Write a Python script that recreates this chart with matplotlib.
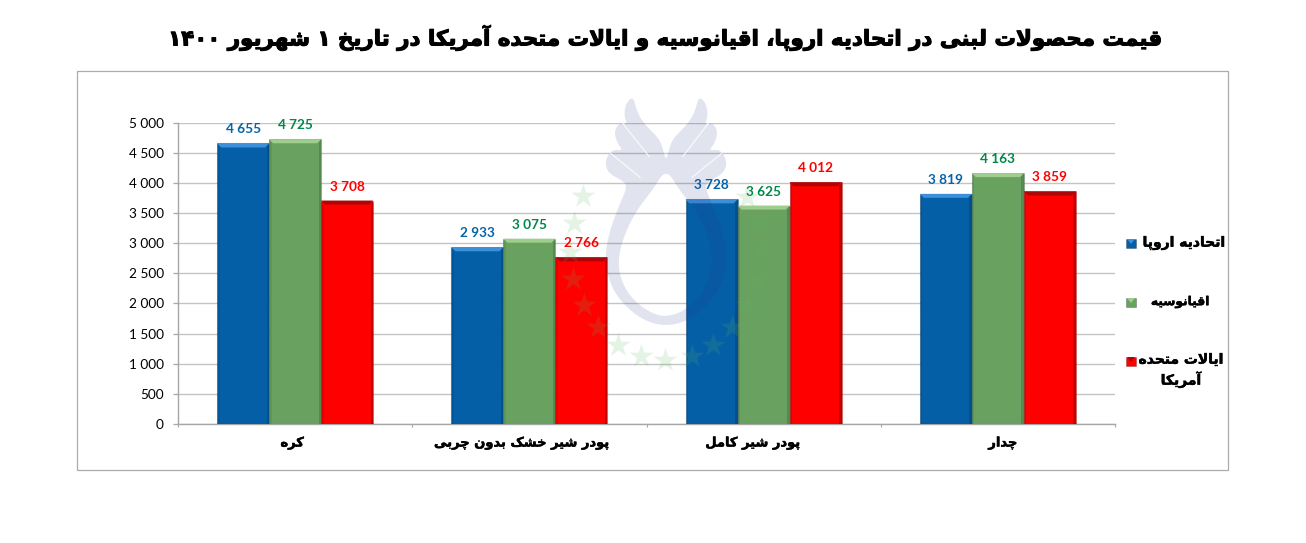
import matplotlib
matplotlib.use("Agg")
import matplotlib.pyplot as plt
import matplotlib.patheffects as pe
from matplotlib.patches import Polygon, Rectangle, PathPatch
from matplotlib.path import Path
from matplotlib.transforms import ScaledTranslation
import numpy as np

# ---------- data ----------
title = "قیمت محصولات لبنی در اتحادیه اروپا، اقیانوسیه و ایالات متحده آمریکا در تاریخ ۱ شهریور ۱۴۰۰"
categories = ["کره", "پودر شیر خشک بدون چربی", "پودر شیر کامل", "چدار"]
series_names = ["اتحادیه اروپا", "اقیانوسیه", "ایالات متحده\nآمریکا"]
eu_values = [4655, 2933, 3728, 3819]
oceania_values = [4725, 3075, 3625, 4163]
usa_values = [3708, 2766, 4012, 3859]
y_ticks = [0, 500, 1000, 1500, 2000, 2500, 3000, 3500, 4000, 4500, 5000]

# ---------- Persian shaping (matplotlib has no shaping or bidi) ----------
FORMS = {
    "ا": (0xFE8D, 2), "آ": (0xFE81, 2), "ب": (0xFE8F, 4), "ت": (0xFE95, 4), "ث": (0xFE99, 4),
    "ج": (0xFE9D, 4), "ح": (0xFEA1, 4), "خ": (0xFEA5, 4), "د": (0xFEA9, 2), "ذ": (0xFEAB, 2),
    "ر": (0xFEAD, 2), "ز": (0xFEAF, 2), "س": (0xFEB1, 4), "ش": (0xFEB5, 4), "ص": (0xFEB9, 4),
    "ض": (0xFEBD, 4), "ط": (0xFEC1, 4), "ظ": (0xFEC5, 4), "ع": (0xFEC9, 4), "غ": (0xFECD, 4),
    "ف": (0xFED1, 4), "ق": (0xFED5, 4), "ل": (0xFEDD, 4), "م": (0xFEE1, 4), "ن": (0xFEE5, 4),
    "ه": (0xFEE9, 4), "و": (0xFEED, 2), "پ": (0xFB56, 4), "چ": (0xFB7A, 4), "ژ": (0xFB8A, 2),
    "ک": (0xFB8E, 4), "گ": (0xFB92, 4), "ی": (0xFBFC, 4),
}


def shape_line(s):
    out = []
    chars = list(s)
    i = 0
    while i < len(chars):
        c = chars[i]
        if c not in FORMS:
            out.append(c)
            i += 1
            continue
        prev_joins = i > 0 and chars[i - 1] in FORMS and FORMS[chars[i - 1]][1] == 4
        if c == "ل" and i + 1 < len(chars) and chars[i + 1] == "ا":
            out.append(chr(0xFEFC if prev_joins else 0xFEFB))
            i += 2
            continue
        start, n = FORMS[c]
        next_exists = i + 1 < len(chars) and chars[i + 1] in FORMS
        can_next = n == 4 and next_exists
        if prev_joins and can_next:
            k = 3
        elif can_next:
            k = 2
        elif prev_joins:
            k = 1
        else:
            k = 0
        out.append(chr(start + k))
        i += 1
    # visual order: reverse, but keep runs of digits left-to-right
    result, run = [], []
    for ch in reversed(out):
        if "\u06f0" <= ch <= "\u06f9":
            run.append(ch)
        else:
            result.extend(reversed(run))
            run = []
            result.append(ch)
    result.extend(reversed(run))
    return "".join(result)


def fa(s):
    return "\n".join(shape_line(p) for p in s.split("\n"))


def heavy(w):
    return [pe.withStroke(linewidth=w, foreground="black")]


FA_FONT = "DejaVu Sans"
NUM_FONT = "Lato"
W, H = 1306, 543

fig = plt.figure(figsize=(W / 100, H / 100), dpi=100, facecolor="white")
L, R, T, B = 178, 1115, 122.7, 424
ax = fig.add_axes([L / W, 1 - B / H, (R - L) / W, (B - T) / H], zorder=1)
ax.set_xlim(0, 4)
ax.set_ylim(0, 5000)
px_x = 4 / (R - L)
px_y = 5000 / (B - T)

fills = ["#045FA6", "#68A160", "#FF0000"]
tops = ["#3C8FDA", "#9FCE8C", "#AE0606"]
sides = ["#034A82", "#4E7F48", "#A80000"]
label_cols = ["#0563A8", "#00874A", "#FF0000"]
series = [eu_values, oceania_values, usa_values]
width = 52 * px_x

ax.set_axisbelow(True)
ax.yaxis.grid(True, color="#C4C4C4", lw=1.0)
for s, (vals, f, tc, sc, lc) in enumerate(zip(series, fills, tops, sides, label_cols)):
    xs = np.arange(len(vals)) + 0.5 + (s - 1) * width
    bars = ax.bar(xs, vals, width=width, color=f, edgecolor=(0, 0, 0, 0.18), lw=0.8, zorder=3)
    for rect, v in zip(bars, vals):
        x0, x1, h = rect.get_x(), rect.get_x() + rect.get_width(), rect.get_height()
        dx, dy = 4 * px_x, 4 * px_y
        sw = 2.5 * px_x
        ax.add_patch(Polygon([(x0, h), (x1, h), (x1 - dx, h - dy), (x0 + dx, h - dy)],
                             fc=tc, ec="none", zorder=4))
        ax.add_patch(Polygon([(x1, h), (x1, 0), (x1 - sw, 0), (x1 - sw, h - dy)],
                             fc=sc, ec="none", alpha=0.7, zorder=4))
        ax.add_patch(Polygon([(x0, h), (x0, 0), (x0 + sw, 0), (x0 + sw, h - dy)],
                             fc=sc, ec="none", alpha=0.3, zorder=4))
        ax.annotate(f"{v:,}".replace(",", " "), (rect.get_x() + rect.get_width() / 2, h),
                    xytext=(0, 14 * 0.72), textcoords="offset points", ha="center", va="center",
                    color=lc, fontsize=9.8, fontweight="bold", family=NUM_FONT, zorder=6)

for side in ("top", "right"):
    ax.spines[side].set_visible(False)
for side in ("left", "bottom"):
    ax.spines[side].set_color("#A6A6A6")
    ax.spines[side].set_linewidth(1.0)
ax.set_yticks(y_ticks)
ax.set_yticklabels([f"{v:,}".replace(",", " ") for v in y_ticks], fontsize=9.8, family=NUM_FONT, color="black")
ax.tick_params(axis="y", length=3.6, width=0.9, color="#A6A6A6", pad=6.5)
ax.set_xticks(range(5))
ax.set_xticklabels([])
ax.tick_params(axis="x", which="major", length=2.5, width=0.8, color="#A6A6A6")
ax.set_xticks(np.arange(4) + 0.5, minor=True)
ax.set_xticklabels([fa(c) for c in categories], minor=True, fontsize=9.4, fontweight="bold",
                   family=FA_FONT, color="black")
ax.tick_params(axis="x", which="minor", length=0, pad=9)
label_shift_px = [-3, -8, -11, 5]
for lab, dx in zip(ax.get_xticklabels(minor=True), label_shift_px):
    lab.set_transform(lab.get_transform() + ScaledTranslation(dx / 100, 0, fig.dpi_scale_trans))
    lab.set_path_effects(heavy(0.35))

# ---------- overlay in pixel coordinates: frame, watermark, legend, title ----------
ov = fig.add_axes([0, 0, 1, 1], zorder=2)
ov.set_xlim(0, W)
ov.set_ylim(H, 0)
ov.axis("off")
ov.add_patch(Rectangle((77, 71), 1151, 399, fc="none", ec="#ABABAB", lw=0.9))


def smooth(pts, it=3):
    p = np.asarray(pts, float)
    for _ in range(it):
        q = np.roll(p, -1, axis=0)
        p = np.column_stack([0.75 * p + 0.25 * q, 0.25 * p + 0.75 * q]).reshape(-1, 2)
    return p


def zpt(pts):
    return [(540 + x / 3, 90 + y / 3) for x, y in pts]


left_half = [(375, 205), (362, 150), (320, 110), (292, 70), (280, 18), (258, 40), (252, 75), (262, 105),
             (238, 98), (222, 125), (232, 160), (250, 182), (215, 178), (194, 215), (205, 250), (248, 272),
             (262, 290), (238, 345), (208, 425), (194, 505), (212, 590), (258, 652), (318, 695), (378, 708)]
right_half = [(756 - x, y) for x, y in reversed(left_half[:-1])]
outer = smooth(zpt(left_half + right_half))
hole = smooth(zpt([(378, 235), (418, 300), (468, 360), (506, 440), (520, 520), (490, 610), (430, 665),
                   (378, 680), (340, 672), (290, 640), (250, 590), (232, 520), (250, 440), (290, 360), (338, 300)]))
verts = np.vstack([outer, outer[:1], hole, hole[:1]])
codes = ([Path.MOVETO] + [Path.LINETO] * (len(outer) - 1) + [Path.CLOSEPOLY] +
         [Path.MOVETO] + [Path.LINETO] * (len(hole) - 1) + [Path.CLOSEPOLY])
ov.add_patch(PathPatch(Path(verts, codes), fc="#2C3A8C", ec="none", alpha=0.14, zorder=1))
for a, b in [((248, 100), (328, 200)), ((505, 100), (428, 200)), ((212, 190), (300, 262)), ((545, 190), (456, 262))]:
    pa, pb = zpt([a, b])
    ov.plot([pa[0], pb[0]], [pa[1], pb[1]], color="white", lw=0.9, alpha=0.8, zorder=2)

star_x = [583, 574, 570, 573, 584, 598, 618, 641, 665, 692, 713, 732, 747, 757, 761, 757, 747]
star_y = [196, 223, 252, 279, 305, 327, 345, 356, 360, 356, 345, 327, 305, 280, 251, 223, 197]
ov.scatter(star_x, star_y, marker="*", s=330, color="#5FB85F", alpha=0.16, linewidths=0, zorder=1)

for y, col, top in zip([243, 302, 361], fills, tops):
    ov.add_patch(Rectangle((1126, y - 4.5), 9.5, 9.5, fc=col, ec=(0, 0, 0, 0.3), lw=0.5, zorder=3))
    ov.add_patch(Polygon([(1127, y - 4), (1135, y - 4), (1131, y + 1)], fc=top, ec="none", zorder=4))
legend_pos = [(1184, 243, 10), (1180, 302, 8.8), (1181, 370.5, 10)]
for (x, y, fs), name in zip(legend_pos, series_names):
    ov.text(x, y, fa(name), ha="center", va="center", fontsize=fs, fontweight="bold", family=FA_FONT,
            color="black", linespacing=1.3, zorder=5, path_effects=heavy(0.35))

ov.text(665, 38, fa(title), ha="center", va="center", fontsize=15.4, fontweight="bold", family=FA_FONT,
        color="black", path_effects=heavy(0.8))

fig.savefig("out.png", dpi=100, facecolor="white")
